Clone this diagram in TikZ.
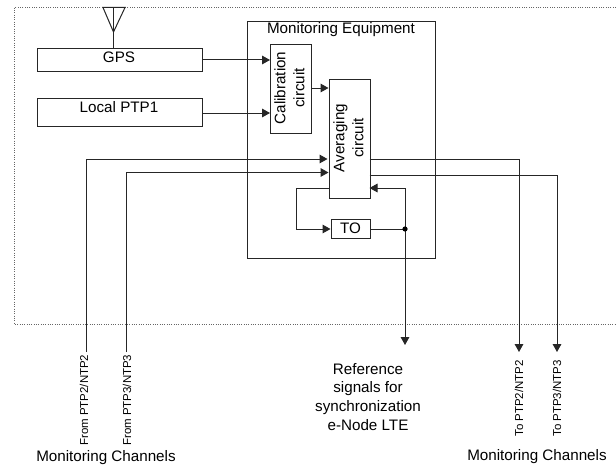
\documentclass[tikz,border=0pt]{standalone}
\usepackage{fontspec}
\setmainfont{Liberation Sans}
\usetikzlibrary{arrows.meta}
\tikzset{
  conn/.style={draw=black!85,line width=0.75pt},
  arr/.style={conn,-{Triangle[length=6pt,width=6.5pt]}},
  blockbox/.style={draw=black!85,line width=0.75pt,inner sep=0pt,anchor=north west,fill=white},
  txt/.style={font=\fontsize{11.4pt}{14.2pt}\selectfont,inner sep=0pt,align=center},
  vtxt/.style={font=\fontsize{8.6pt}{11pt}\selectfont,inner sep=0pt,rotate=90,anchor=west},
  rtxt/.style={font=\fontsize{11.4pt}{14.2pt}\selectfont,inner sep=0pt,rotate=90,align=center},
}
\begin{document}
\begin{tikzpicture}[x=0.75pt,y=-0.75pt]
\useasboundingbox (0,0) rectangle (616,467);
% outer dotted frame
\coordinate (ftr) at (616,7.5);
\coordinate (ftl) at (14,7.5);
\coordinate (fbl) at (14,324);
\coordinate (fbr) at (616,324);
\draw[draw=black!60,line width=0.75pt,densely dotted] (ftr) -- (ftl) -- (fbl) -- (fbr);
% boxes
\node[blockbox,minimum width=188*0.75pt,minimum height=236.5*0.75pt] (mon) at (247,21.5) {};
\node[blockbox,minimum width=165*0.75pt,minimum height=22.5*0.75pt] (gps) at (37,48) {};
\node[blockbox,minimum width=165*0.75pt,minimum height=28*0.75pt] (ptp) at (37,98) {};
\node[blockbox,minimum width=41*0.75pt,minimum height=89*0.75pt] (cal) at (270,44) {};
\node[blockbox,minimum width=41*0.75pt,minimum height=119.5*0.75pt] (avg) at (328.5,78.5) {};
\node[blockbox,minimum width=39*0.75pt,minimum height=19*0.75pt] (to) at (330.5,219) {};
% texts
\node[txt] (tmon) at (341,30) {Monitoring Equipment};
\node[txt] (tgps) at (119,57.5) {GPS};
\node[txt] (tptp) at (119,107.5) {Local PTP1};
\node[rtxt] (tcal) at (289.5,88) {Calibration\\circuit};
\node[rtxt] (tavg) at (348.5,138) {Averaging\\circuit};
\node[txt] (tto) at (350.5,228.5) {TO};
% antenna
\coordinate (al) at (103,7.5);
\coordinate (ar) at (125,7.5);
\coordinate (at) at (113.5,7.5);
\coordinate (ab) at (113.5,32);
\coordinate (gtop) at (113.5,48);
\draw[conn] (al) -- (ab) -- (ar) -- cycle;
\draw[conn] (at) -- (gtop);
% inputs
\coordinate (c1) at (270,60);
\coordinate (c2) at (270,113);
\draw[arr] (gps.east |- c1) -- (c1);
\draw[arr] (ptp.east |- c2) -- (c2);
\coordinate (c3) at (328.5,88);
\draw[arr] (cal.east |- c3) -- (c3);
% monitoring channels in
\coordinate (p2s) at (86,352);
\coordinate (p2c) at (86,159);
\coordinate (p2e) at (327.5,159);
\coordinate (p3s) at (126,352);
\coordinate (p3c) at (126,172.5);
\coordinate (p3e) at (328.5,172.5);
\draw[arr] (p2s) -- (p2c) -- (p2e);
\draw[arr] (p3s) -- (p3c) -- (p3e);
% outputs
\coordinate (o2a) at (369.5,159);
\coordinate (o2c) at (519,159);
\coordinate (o2e) at (519,352);
\coordinate (o3a) at (369.5,175);
\coordinate (o3c) at (557,175);
\coordinate (o3e) at (557,352);
\draw[arr] (o2a) -- (o2c) -- (o2e);
\draw[arr] (o3a) -- (o3c) -- (o3e);
% TO feedback
\coordinate (la) at (328.5,188);
\coordinate (lc) at (296,188);
\coordinate (ld) at (296,229);
\coordinate (lt) at (330.5,229);
\draw[arr] (la) -- (lc) -- (ld) -- (lt);
\coordinate (dot) at (405,229);
\coordinate (rc) at (405,188);
\coordinate (ra) at (369.5,188);
\coordinate (re) at (405,345);
\draw[conn] (to.east |- dot) -- (dot);
\draw[arr] (dot) -- (rc) -- (ra);
\draw[arr] (dot) -- (re);
\fill[black] (dot) circle (2.6);
% bottom texts
\node[vtxt] (f2) at (84,446) {From PTP2/NTP2};
\node[vtxt] (f3) at (127,446) {From PTP3/NTP3};
\node[vtxt] (t2) at (519,437) {To PTP2/NTP2};
\node[vtxt] (t3) at (557,437) {To PTP3/NTP3};
\node[txt] (ml) at (106,458) {Monitoring Channels};
\node[txt] (mr) at (537,457) {Monitoring Channels};
\node[txt] (ref) at (368,397) {Reference\\signals for\\synchronization\\e-Node LTE};
\end{tikzpicture}
\end{document}
